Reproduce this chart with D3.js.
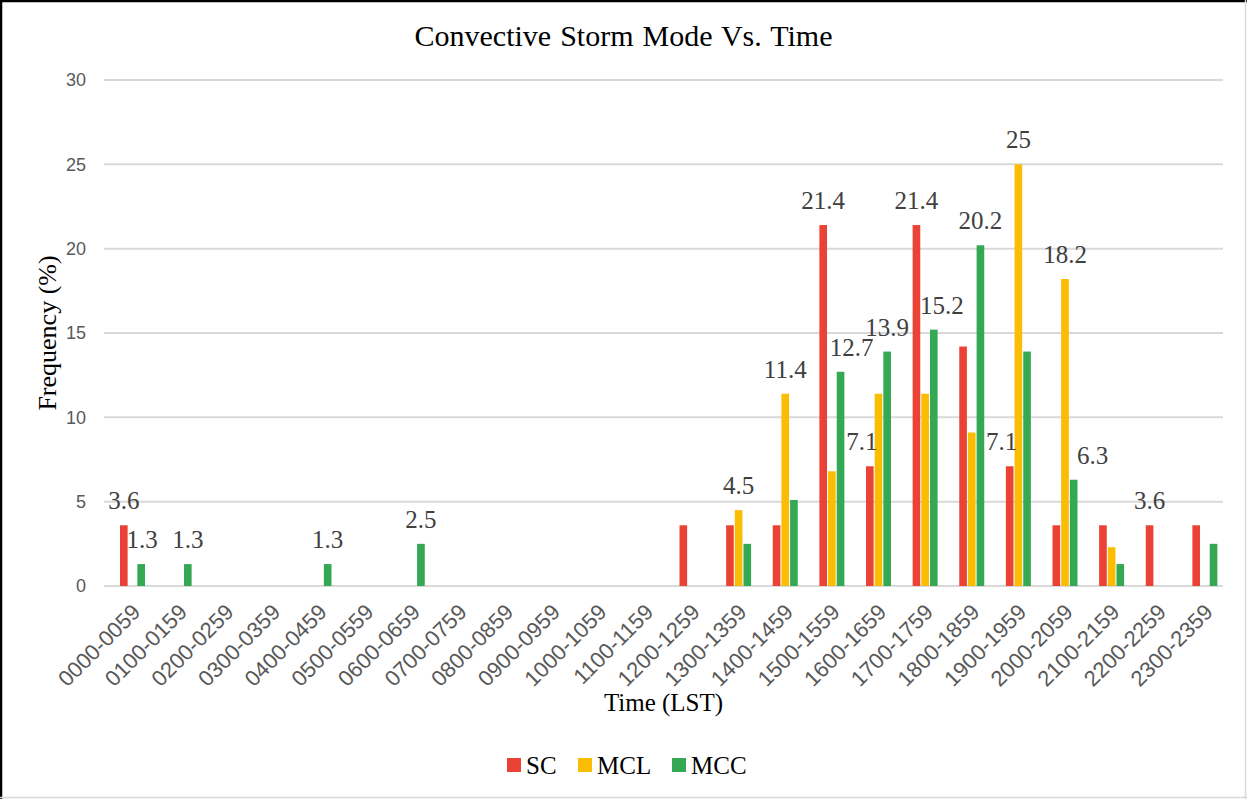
<!DOCTYPE html>
<html>
<head>
<meta charset="utf-8">
<script src="https://cdn.jsdelivr.net/npm/d3@7"></script>
<style>
  html, body { margin: 0; padding: 0; background: #fff; }
  svg { display: block; }
</style>
</head>
<body>
<svg id="chart" width="1247" height="799"></svg>
<script>
// ---- data ----
const categories = ["0000-0059","0100-0159","0200-0259","0300-0359","0400-0459","0500-0559",
  "0600-0659","0700-0759","0800-0859","0900-0959","1000-1059","1100-1159","1200-1259",
  "1300-1359","1400-1459","1500-1559","1600-1659","1700-1759","1800-1859","1900-1959",
  "2000-2059","2100-2159","2200-2259","2300-2359"];
const seriesNames = ["SC", "MCL", "MCC"];
const scValues  = [3.6,0,0,0,0,0,0,0,0,0,0,0,3.6,3.6,3.6,21.4,7.1,21.4,14.2,7.1,3.6,3.6,3.6,3.6];
const mclValues = [0,0,0,0,0,0,0,0,0,0,0,0,0,4.5,11.4,6.8,11.4,11.4,9.1,25,18.2,2.3,0,0];
const mccValues = [1.3,1.3,0,0,1.3,0,2.5,0,0,0,0,0,0,2.5,5.1,12.7,13.9,15.2,20.2,13.9,6.3,1.3,0,2.5];
const yTicks = [0, 5, 10, 15, 20, 25, 30];
// which bars carry a data label: [series, category]
const labeledBars = [
  ["SC","0000-0059"],["MCC","0000-0059"],["MCC","0100-0159"],["MCC","0400-0459"],
  ["MCC","0600-0659"],["MCL","1300-1359"],["MCL","1400-1459"],["SC","1500-1559"],
  ["MCC","1500-1559"],["SC","1600-1659"],["MCC","1600-1659"],["SC","1700-1759"],
  ["MCC","1700-1759"],["MCC","1800-1859"],["SC","1900-1959"],["MCL","1900-1959"],
  ["MCL","2000-2059"],["MCC","2000-2059"],["SC","2200-2259"]
];

// ---- layout / style ----
const colors = { SC: "#EA4335", MCL: "#FBBC04", MCC: "#34A853" };
const labelNudge = { "MCC|1500-1559": 11, "SC|1600-1659": -8, "SC|1900-1959": -8,
                     "MCC|1700-1759": 8, "MCC|2000-2059": 19, "MCC|0000-0059": 1 };
const plot = { left: 104, right: 1223, top: 80, bottom: 586 };
const groupOffset = 16;
const groupWidth = 25;
const serif = "'Liberation Serif', 'Times New Roman', serif";
const sans = "'Liberation Sans', Arial, sans-serif";

const valuesBySeries = { SC: scValues, MCL: mclValues, MCC: mccValues };

const svg = d3.select("#chart");
svg.append("rect").attr("width", 1247).attr("height", 799).attr("fill", "#fff");

const x = d3.scaleBand().domain(categories).range([plot.left, plot.right]).paddingInner(0).paddingOuter(0);
const xs = d3.scaleBand().domain(seriesNames).range([0, groupWidth]).paddingInner(0.12);
const y = d3.scaleLinear().domain([0, 30]).range([plot.bottom, plot.top]);

// gridlines
svg.append("g").selectAll("line").data(yTicks).join("line")
  .attr("x1", plot.left).attr("x2", plot.right)
  .attr("y1", d => y(d)).attr("y2", d => y(d))
  .attr("stroke", "#d9d9d9").attr("stroke-width", 2);

// y axis labels
const yAxis = d3.axisLeft(y).tickValues(yTicks).tickSize(0).tickPadding(0);
const yg = svg.append("g").attr("transform", `translate(${plot.left - 18},0)`).call(yAxis);
yg.select(".domain").remove();
yg.selectAll("text").attr("font-family", sans).attr("font-size", 18).attr("fill", "#595959");

// x axis labels
const xAxis = d3.axisBottom(x).tickSize(0).tickPadding(0);
const xg = svg.append("g").attr("transform", `translate(0,${plot.bottom})`).call(xAxis);
xg.select(".domain").remove();
xg.selectAll("text")
  .attr("font-family", sans).attr("font-size", 22).attr("fill", "#595959")
  .attr("text-anchor", "end")
  .attr("dy", "0.35em").attr("y", 0)
  .attr("transform", "translate(9,22) rotate(-45)");

// bars
const rows = [];
categories.forEach((c, i) => {
  seriesNames.forEach(s => rows.push({ cat: c, series: s, value: valuesBySeries[s][i] }));
});
const barX = d => x(d.cat) + groupOffset + xs(d.series);
svg.append("g").selectAll("rect").data(rows.filter(d => d.value > 0)).join("rect")
  .attr("x", barX)
  .attr("y", d => y(d.value))
  .attr("width", xs.bandwidth())
  .attr("height", d => y(0) - y(d.value))
  .attr("fill", d => colors[d.series]);

// data labels
const labelRows = labeledBars.map(([s, c]) => ({ series: s, cat: c, value: valuesBySeries[s][categories.indexOf(c)] }));
svg.append("g").selectAll("text").data(labelRows).join("text")
  .attr("x", d => barX(d) + xs.bandwidth() / 2 + (labelNudge[d.series + "|" + d.cat] || 0))
  .attr("y", d => y(d.value) - 16)
  .attr("text-anchor", "middle")
  .attr("font-family", serif).attr("font-size", 25).attr("fill", "#404040")
  .text(d => d.value);

// title
svg.append("text").attr("x", 623.5).attr("y", 46).attr("text-anchor", "middle")
  .attr("font-family", serif).attr("font-size", 30).attr("fill", "#000")
  .attr("word-spacing", 1.5)
  .text("Convective Storm Mode Vs. Time");

// axis titles
svg.append("text").attr("x", (plot.left + plot.right) / 2).attr("y", 711).attr("text-anchor", "middle")
  .attr("font-family", serif).attr("font-size", 25).attr("fill", "#000")
  .text("Time (LST)");
svg.append("text").attr("transform", "translate(56,333) rotate(-90)").attr("text-anchor", "middle")
  .attr("font-family", serif).attr("font-size", 26).attr("fill", "#000")
  .text("Frequency (%)");

// legend
const legendItems = [{ s: "SC", x: 507 }, { s: "MCL", x: 578 }, { s: "MCC", x: 672 }];
const lg = svg.append("g");
legendItems.forEach(it => {
  lg.append("rect").attr("x", it.x).attr("y", 758).attr("width", 14).attr("height", 14).attr("fill", colors[it.s]);
  lg.append("text").attr("x", it.x + 19).attr("y", 774)
    .attr("font-family", serif).attr("font-size", 25).attr("fill", "#000").text(it.s);
});

// borders
svg.append("line").attr("x1", 0).attr("x2", 1247).attr("y1", 1).attr("y2", 1).attr("stroke", "#000").attr("stroke-width", 2.5);
svg.append("line").attr("x1", 1).attr("x2", 1).attr("y1", 0).attr("y2", 799).attr("stroke", "#000").attr("stroke-width", 2.5);
svg.append("line").attr("x1", 1245.5).attr("x2", 1245.5).attr("y1", 0).attr("y2", 799).attr("stroke", "#d9d9d9").attr("stroke-width", 1.5);
svg.append("line").attr("x1", 0).attr("x2", 1247).attr("y1", 797.5).attr("y2", 797.5).attr("stroke", "#d9d9d9").attr("stroke-width", 1.5);
</script>
</body>
</html>
